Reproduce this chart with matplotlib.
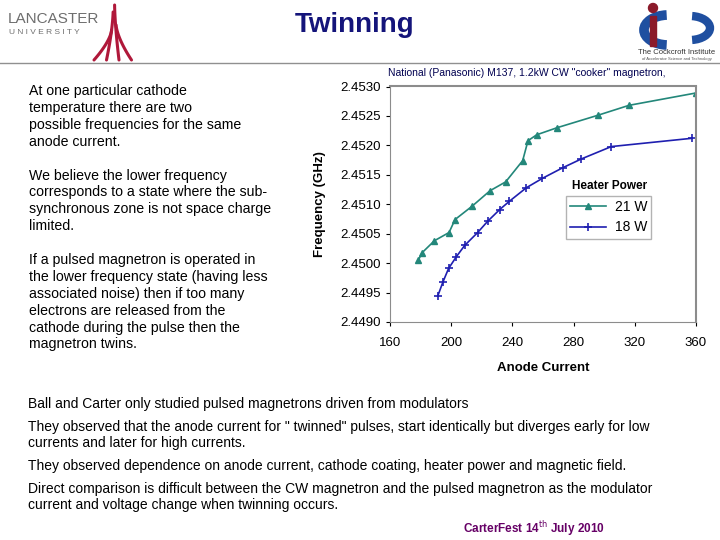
import numpy as np
import matplotlib
matplotlib.use("Agg")
import matplotlib.pyplot as plt
from matplotlib.patches import Arc, Rectangle, Circle

plt.rcParams['font.family'] = ['Liberation Sans', 'DejaVu Sans']

# data
current_21w = [178.5, 181.1, 189.0, 198.6, 202.5, 213.8, 225.4, 235.6, 246.7, 250.2,
               255.9, 269.2, 295.7, 316.2, 360.0]
freq_21w = [2.45005, 2.45018, 2.45038, 2.45052, 2.45074, 2.45097, 2.45123, 2.45138,
            2.45174, 2.45208, 2.45218, 2.45230, 2.45251, 2.45268, 2.45289]
current_18w = [191.2, 194.6, 198.3, 203.4, 208.8, 217.3, 223.8, 231.7, 238.0, 249.1,
               259.6, 272.9, 285.1, 304.7, 357.2]
freq_18w = [2.44944, 2.44968, 2.44991, 2.45011, 2.45030, 2.45052, 2.45071, 2.45091,
            2.45105, 2.45128, 2.45144, 2.45162, 2.45177, 2.45198, 2.45212]
xticks = [160, 200, 240, 280, 320, 360]
yticks = [2.4490, 2.4495, 2.4500, 2.4505, 2.4510, 2.4515, 2.4520, 2.4525, 2.4530]

left_lines = [
    "At one particular cathode", "temperature there are two",
    "possible frequencies for the same", "anode current.", None,
    "We believe the lower frequency", "corresponds to a state where the sub-",
    "synchronous zone is not space charge", "limited.", None,
    "If a pulsed magnetron is operated in", "the lower frequency state (having less",
    "associated noise) then if too many", "electrons are released from the",
    "cathode during the pulse then the", "magnetron twins.",
]
bottom_lines = [
    (404, "Ball and Carter only studied pulsed magnetrons driven from modulators"),
    (427, "They observed that the anode current for \" twinned\" pulses, start identically but diverges early for low"),
    (443, "currents and later for high currents."),
    (466, "They observed dependence on anode current, cathode coating, heater power and magnetic field."),
    (489, "Direct comparison is difficult between the CW magnetron and the pulsed magnetron as the modulator"),
    (505, "current and voltage change when twinning occurs."),
]

fig = plt.figure(figsize=(7.2, 5.4), dpi=100)

def px(x, y):
    return x / 720, 1 - y / 540

# decorations in pixel coordinates
deco = fig.add_axes([0, 0, 1, 1], zorder=-1)
deco.set_xlim(0, 720)
deco.set_ylim(540, 0)
deco.axis('off')
deco.plot([0, 720], [63, 63], color='#909090', lw=1)

# Lancaster logo
fig.text(*px(8, 19), 'LANCASTER', fontsize=11, color='#6e6e6e', va='center')
fig.text(*px(9, 33), 'U N I V E R S I T Y', fontsize=6, color='#6e6e6e', va='center')
for dx, top in zip([-8, -3, 2, 7], [30, 12, 5, 25]):
    t = np.linspace(0, 1, 30)
    xs = 114 + dx * t ** 1.5 * 2.2 + dx * 0.3
    ys = top + (60 - top) * t
    deco.plot(xs, ys, color='#b0183a', lw=2.2, solid_capstyle='round')

# Cockcroft logo
deco.add_patch(Arc((668, 30), 48, 30, theta1=95, theta2=265, lw=7, color='#1f4fa0'))
deco.add_patch(Arc((690, 28), 40, 24, theta1=-80, theta2=80, lw=6, color='#1f4fa0'))
deco.add_patch(Rectangle((650, 16), 6, 30, color='#8b1a2a'))
deco.add_patch(Circle((653, 8), 4.5, color='#8b1a2a'))
fig.text(*px(677, 52), 'The Cockcroft Institute', fontsize=5.5, color='#333333',
         ha='center', va='center')
fig.text(*px(677, 59), 'of Accelerator Science and Technology', fontsize=3,
         color='#555555', ha='center', va='center')

fig.text(*px(355, 25), 'Twinning', fontsize=20, fontweight='bold',
         color='#14147a', ha='center', va='center')

y = 91
for line in left_lines:
    if line:
        fig.text(*px(29, y), line, fontsize=10.2, va='center')
    y += 16.9

for y, line in bottom_lines:
    fig.text(*px(28, y), line, fontsize=10, va='center')

fig.text(*px(463, 529), r'CarterFest 14$^{\mathrm{th}}$ July 2010', fontsize=8.5,
         fontweight='bold', color='#660066', va='center')

fig.text(*px(388, 73), 'National (Panasonic) M137, 1.2kW CW "cooker" magnetron,',
         fontsize=7.5, color='#000050', va='center')

# chart
ax = fig.add_axes([390 / 720, 1 - 322 / 540, 306 / 720, 235.5 / 540])
ax.plot(current_21w, freq_21w, color='#23877a', marker='^', markersize=5, lw=1.2, label='21 W')
ax.plot(current_18w, freq_18w, color='#1f1fb0', marker='+', markersize=6, mew=1.2, lw=1.2,
        label='18 W')
ax.set_xlim(160, 360)
ax.set_ylim(2.4490, 2.4530)
ax.set_xticks(xticks)
ax.set_yticks(yticks)
ax.set_yticklabels(['%.4f' % v for v in yticks])
ax.tick_params(labelsize=9.5, length=3, width=0.8, colors='#000000')
ax.tick_params(axis='x', pad=8)
for side in ['top', 'right']:
    ax.spines[side].set_color('#8c8c8c')
    ax.spines[side].set_linewidth(1.5)
for side in ['left', 'bottom']:
    ax.spines[side].set_color('#8c8c8c')
ax.set_xlabel('Anode Current', fontsize=9.5, fontweight='bold', labelpad=9)
ax.set_ylabel('Frequency (GHz)', fontsize=9.5, fontweight='bold', labelpad=10)

fig.text(*px(610, 186), 'Heater Power', fontsize=8.5, fontweight='bold',
         ha='center', va='center')
leg = ax.legend(loc='upper left', bbox_to_anchor=(0.575, 0.535), fontsize=10, frameon=True,
                fancybox=False, edgecolor='#a0a0a0', handlelength=2.6, borderpad=0.3,
                borderaxespad=0, labelspacing=0.45, handletextpad=0.6)
leg.get_frame().set_linewidth(1)

fig.savefig('out.png', dpi=100)
